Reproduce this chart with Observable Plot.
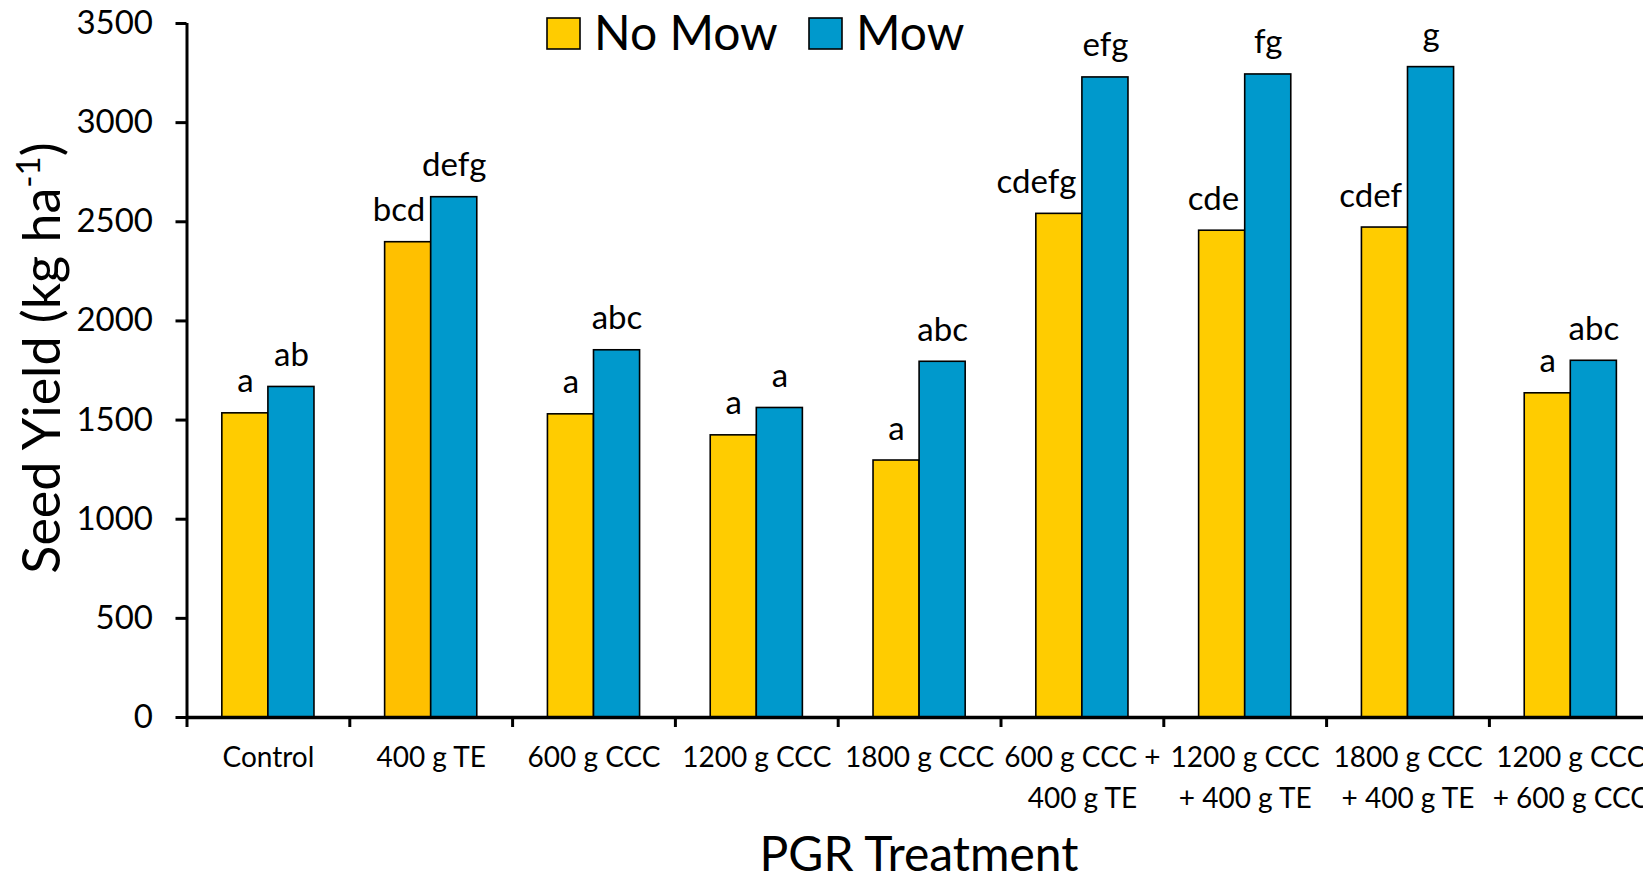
<!DOCTYPE html>
<html><head><meta charset="utf-8">
<script src="https://cdn.jsdelivr.net/npm/d3@7"></script>
<script src="https://cdn.jsdelivr.net/npm/@observablehq/plot@0.6"></script>
<style>
html,body{margin:0;padding:0;background:#fff;overflow:hidden;}
#chart{position:relative;width:1643px;height:877px;overflow:hidden;}
</style></head><body><div id="chart"></div>
<script>
const categories = ["Control","400 g TE","600 g CCC","1200 g CCC","1800 g CCC","600 g CCC +\n400 g TE","1200 g CCC\n+ 400 g TE","1800 g CCC\n+ 400 g TE","1200 g CCC\n+ 600 g CCC"];
const noMow = [1534,2397,1529,1423,1296,2540,2455,2471,1635];
const mow = [1667,2624,1852,1561,1794,3228,3243,3280,1799];
const noMowLetters = ["a","bcd","a","a","a","cdefg","cde","cdef","a"];
const mowLetters = ["ab","defg","abc","a","abc","efg","fg","g","abc"];
const yTicks = [0,500,1000,1500,2000,2500,3000,3500];
const seriesNames = ["No Mow","Mow"];
const xTitle = "PGR Treatment";

const FONT = "Lato, 'Open Sans', sans-serif";
const colors = {"No Mow":"#FFCC00","Mow":"#0099CC"};
const W = 0.283; // bar width in category units
const letterSize = 33;

const rows = categories.flatMap((c,i)=>[
  {i, cat:c, series:seriesNames[0], value:noMow[i], letter:noMowLetters[i], other:mow[i]},
  {i, cat:c, series:seriesNames[1], value:mow[i], letter:mowLetters[i], other:noMow[i]}
]);
const isNo = d => d.series === seriesNames[0];
const shifted = d => isNo(d) && d.other > d.value && d.letter.length*0.5*letterSize > 46;

const bounds = d3.range(categories.length+1).map(i=>i-0.5);

const plot = Plot.plot({
  width:1643, height:877,
  marginLeft:186.5, marginRight:0, marginTop:23, marginBottom:160,
  style:{fontFamily:FONT, color:"#000", background:"#fff", overflow:"hidden"},
  x:{domain:[-0.5, categories.length-0.5], range:[186.5, 186.5+162.8*categories.length], axis:null},
  y:{domain:[0,3500], axis:null},
  marks:[
    Plot.rectY(rows, {
      x1: d => isNo(d) ? d.i - W : d.i,
      x2: d => isNo(d) ? d.i : d.i + W,
      y: "value",
      fill: d => (d.i === 1 && isNo(d)) ? "#FFC000" : colors[d.series],
      stroke:"#000", strokeWidth:1.6
    }),
    Plot.text(rows.filter(d=>!shifted(d)), {
      x: d => isNo(d) ? d.i - W/2 : d.i + W/2, y:"value", text:"letter",
      lineAnchor:"bottom", dy:-21, fontSize:letterSize, fill:"#000"
    }),
    Plot.text(rows.filter(shifted), {
      x: d => d.i, y:"value", text:"letter",
      lineAnchor:"bottom", dy:-21, dx:-6, textAnchor:"end", fontSize:letterSize, fill:"#000"
    }),
    Plot.ruleX([-0.5], {stroke:"#000", strokeWidth:3}),
    Plot.ruleY([0], {stroke:"#000", strokeWidth:3.5}),
    Plot.axisY(yTicks, {anchor:"left", tickSize:11, tickPadding:23, strokeWidth:3, fontSize:33, tickFormat:d=>String(d), label:null}),
    Plot.axisX(bounds, {anchor:"bottom", tickSize:10, strokeWidth:3, tickFormat:()=>"", label:null}),
    Plot.text(categories, {x:(d,i)=>i, y:0, text:d=>d, lineAnchor:"top", dy:21, lineHeight:1.45, fontSize:28, fill:"#000"})
  ]
});
document.getElementById("chart").appendChild(plot);

const svg = d3.select(plot);
// y-axis title with superscript
const yt = svg.append("text")
  .attr("transform","translate(60,358) rotate(-90)")
  .attr("text-anchor","middle")
  .style("font-family",FONT).style("font-size","52px").attr("fill","#000");
yt.append("tspan").text("Seed Yield (kg ha");
yt.append("tspan").text("-1").style("font-size","33px").attr("dy","-20");
yt.append("tspan").text(")").attr("dy","20");
// x-axis title
svg.append("text").attr("x",919).attr("y",871).attr("text-anchor","middle")
  .style("font-family",FONT).style("font-size","48px").attr("fill","#000").text(xTitle);
// legend
const leg = [{name:seriesNames[0], x:547},{name:seriesNames[1], x:809}];
leg.forEach(l=>{
  svg.append("rect").attr("x",l.x).attr("y",18).attr("width",33).attr("height",31)
    .attr("fill",colors[l.name]).attr("stroke","#000").attr("stroke-width",1.6);
  svg.append("text").attr("x",l.x+47).attr("y",50).attr("text-anchor","start")
    .style("font-family",FONT).style("font-size","48px").attr("fill","#000").text(l.name);
});
</script></body></html>
